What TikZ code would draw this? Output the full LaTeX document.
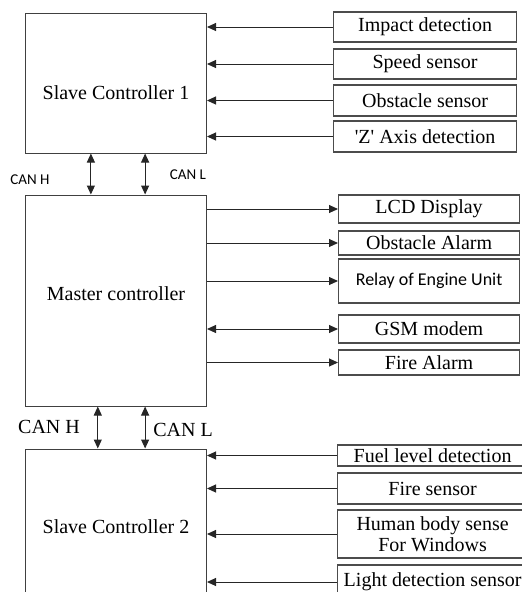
\documentclass[tikz,border=0pt]{standalone}
\usepackage{fontspec}
\setmainfont{Liberation Serif}
\newfontfamily\calibri{Carlito}
\usetikzlibrary{positioning,calc,arrows.meta}

\begin{document}
\begin{tikzpicture}[x=1pt, y=-1pt, >={Triangle[length=9pt,width=8pt]},
  every controller/.style={draw=black!75, line width=1pt, minimum width=181pt,
    font=\fontsize{20}{24}\selectfont},
  every unit/.style={draw=black!70, line width=1.2pt, anchor=west, inner sep=0pt,
    align=center, font=\fontsize{20}{21}\selectfont},
  every link/.style={line width=1pt, black!85},
  link 4/.style={<->},
  bus label/.style={font=\fontsize{20}{22}\selectfont}]

\useasboundingbox (0,0) rectangle (522,592);
\clip (0,0) rectangle (522,592);

\node [every controller/.try, minimum height=140pt] (slave-1) at (116,83) {\smash{\raisebox{-16pt}{Slave Controller 1}}};
\node [every controller/.try, minimum height=211pt] (master) at (116,300.5) {\smash{Master controller}};
\node [every controller/.try, minimum height=156pt] (slave-2) at (116,527) {Slave Controller 2};

\foreach \t/\y/\h [count=\i] in {Impact detection/27/30, Speed sensor/64/30,
    Obstacle sensor/100.5/31, \textquotesingle Z\textquotesingle{} Axis detection/136.5/31}
  \node [every unit/.try, minimum width=183pt, minimum height=\h pt] (input-\i) at (333,\y) {\t};

\foreach \t/\y/\h [count=\i] in {LCD Display/209/28, Obstacle Alarm/243/24,
    {\calibri\fontsize{18}{20}\selectfont Relay of Engine Unit}/281/44, GSM modem/329/28, Fire Alarm/362.5/25}
  \node [every unit/.try, minimum width=181pt, minimum height=\h pt] (output-\i) at (338,\y) {\t};

\foreach \t/\y/\h [count=\i] in {Fuel level detection/455.5/21, Fire sensor/488.5/31,
    {Human body sense\\For Windows}/534/48, Light detection sensor/582/34}
  \node [every unit/.try, minimum width=190pt, minimum height=\h pt] (sense-\i) at (337,\y) {\t};

\foreach \i in {1,...,4}
  \draw [->, every link/.try] (input-\i.west) -- (input-\i.west -| slave-1.east);

\foreach \i in {1,...,5}
  \draw [->, every link/.try, link \i/.try] (output-\i.west -| master.east) -- (output-\i.west);

\foreach \i in {1,...,4}
  \draw [->, every link/.try] (sense-\i.west) -- (sense-\i.west -| slave-2.east);

% CAN bus between the controllers
\foreach \f in {.362,.66}
  \draw [<->, every link/.try] ($(slave-1.south west)!\f!(slave-1.south east)$)
    -- ($(master.north west)!\f!(master.north east)$);

\foreach \f in {.4,.66}
  \draw [<->, every link/.try] ($(master.south west)!\f!(master.south east)$)
    -- ($(slave-2.north west)!\f!(slave-2.north east)$);

\node [bus label/.try, font=\calibri\fontsize{15}{17}\selectfont] (can-h-1) at (30,180) {CAN H};
\node [bus label/.try, font=\calibri\fontsize{15}{17}\selectfont] (can-l-1) at (188,175) {CAN L};
\node [bus label/.try] (can-h-2) at (49,427) {CAN H};
\node [bus label/.try] (can-l-2) at (183,430) {CAN L};

\end{tikzpicture}
\end{document}
